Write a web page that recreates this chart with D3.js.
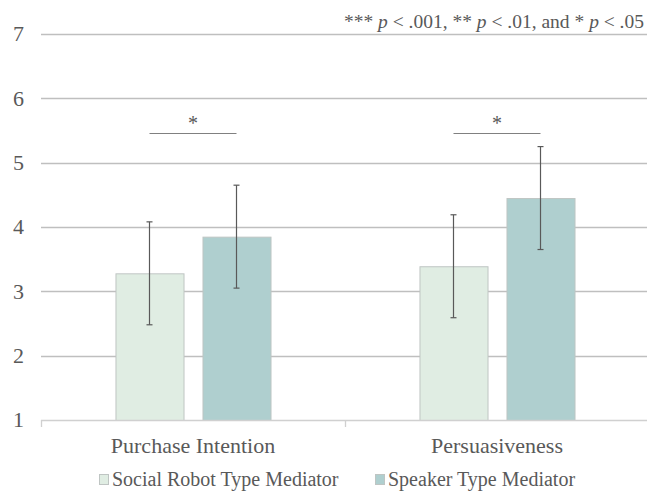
<!DOCTYPE html>
<html>
<head>
<meta charset="utf-8">
<script src="https://cdn.jsdelivr.net/npm/d3@7"></script>
<style>
  body { margin: 0; background: #fff; }
  svg { display: block; }
</style>
</head>
<body>
<svg id="chart"></svg>
<script>
// data
var categories = ["Purchase Intention", "Persuasiveness"];
var seriesNames = ["Social Robot Type Mediator", "Speaker Type Mediator"];
var socialMeans = [3.28, 3.39];
var speakerMeans = [3.85, 4.45];
var socialErr = [0.8, 0.8];
var speakerErr = [0.8, 0.8];
var sigLabels = ["*", "*"];
var yTicks = [1, 2, 3, 4, 5, 6, 7];

var w = 647, h = 491;
var margin = { top: 34, right: -2, bottom: 71, left: 41 };
var colors = ["#e0ede3", "#afcfcf"];
var font = "Liberation Serif";
var textColor = "#595959";

var svg = d3.select("#chart").attr("width", w).attr("height", h);

var x0 = d3.scaleBand()
    .domain(categories)
    .range([margin.left, w - margin.right]);

var x1 = d3.scaleBand()
    .domain(seriesNames)
    .range([0, x0.bandwidth()])
    .paddingInner(0.218)
    .paddingOuter(0.856);

var y = d3.scaleLinear()
    .domain([1, 7])
    .range([h - margin.bottom, margin.top]);

function label(sel, size) {
    return sel.style("font-family", font)
        .style("font-size", size + "px")
        .attr("fill", textColor);
}

// gridlines
svg.append("g")
    .selectAll("line")
    .data(yTicks.slice(1))
    .join("line")
    .attr("x1", margin.left)
    .attr("x2", w)
    .attr("y1", d => Math.round(y(d)) + 0.5)
    .attr("y2", d => Math.round(y(d)) + 0.5)
    .attr("stroke", "#bfbfbf")
    .attr("stroke-width", 1.3);

// y tick labels
svg.append("g")
    .selectAll("text")
    .data(yTicks)
    .join("text")
    .attr("x", 24)
    .attr("y", d => y(d))
    .attr("dy", "0.33em")
    .attr("text-anchor", "end")
    .call(label, 22)
    .text(d => d);

// bars
var rows = categories.map((c, i) => ({
    cat: c,
    vals: [
        { s: seriesNames[0], v: socialMeans[i], e: socialErr[i] },
        { s: seriesNames[1], v: speakerMeans[i], e: speakerErr[i] }
    ],
    sig: sigLabels[i]
}));

var groups = svg.append("g")
    .selectAll("g")
    .data(rows)
    .join("g")
    .attr("transform", d => "translate(" + x0(d.cat) + ",0)");

groups.selectAll("rect")
    .data(d => d.vals)
    .join("rect")
    .attr("x", d => x1(d.s) + 0.5)
    .attr("y", d => y(d.v) + 0.5)
    .attr("width", x1.bandwidth())
    .attr("height", d => y(1) - y(d.v))
    .attr("fill", (d, i) => colors[i])
    .attr("stroke", "#bfc5c3")
    .attr("stroke-width", 1);

// error bars
var err = groups.selectAll("g.err")
    .data(d => d.vals)
    .join("g")
    .attr("class", "err")
    .attr("stroke", "#595959")
    .attr("stroke-width", 1.2);

err.append("line")
    .attr("x1", d => x1(d.s) + x1.bandwidth() / 2)
    .attr("x2", d => x1(d.s) + x1.bandwidth() / 2)
    .attr("y1", d => y(d.v + d.e))
    .attr("y2", d => y(d.v - d.e));

err.selectAll("line.cap")
    .data(d => [d.v + d.e, d.v - d.e].map(v => ({ s: d.s, v: v })))
    .join("line")
    .attr("class", "cap")
    .attr("x1", d => x1(d.s) + x1.bandwidth() / 2 - 3)
    .attr("x2", d => x1(d.s) + x1.bandwidth() / 2 + 3)
    .attr("y1", d => y(d.v))
    .attr("y2", d => y(d.v));

// significance brackets
groups.append("line")
    .attr("x1", x1(seriesNames[0]) + x1.bandwidth() / 2)
    .attr("x2", x1(seriesNames[1]) + x1.bandwidth() / 2)
    .attr("y1", 133.5)
    .attr("y2", 133.5)
    .attr("stroke", "#808080")
    .attr("stroke-width", 1);

groups.append("text")
    .attr("x", (x1(seriesNames[0]) + x1(seriesNames[1]) + x1.bandwidth()) / 2)
    .attr("y", 130)
    .attr("text-anchor", "middle")
    .call(label, 20)
    .text(d => d.sig);

// x axis
var xAxis = svg.append("g").attr("stroke", "#d0d0d0").attr("stroke-width", 1.3);
xAxis.append("line")
    .attr("x1", margin.left)
    .attr("x2", w)
    .attr("y1", y(1) + 0.5)
    .attr("y2", y(1) + 0.5);
xAxis.selectAll("line.tick")
    .data(categories.concat([null]))
    .join("line")
    .attr("class", "tick")
    .attr("x1", d => (d ? x0(d) : x0.range()[1]) + 0.5)
    .attr("x2", d => (d ? x0(d) : x0.range()[1]) + 0.5)
    .attr("y1", y(1))
    .attr("y2", y(1) + 7);

svg.append("g")
    .selectAll("text")
    .data(categories)
    .join("text")
    .attr("x", d => x0(d) + x0.bandwidth() / 2)
    .attr("y", 453)
    .attr("text-anchor", "middle")
    .call(label, 22)
    .text(d => d);

// legend
var legendX = [99, 375];
var legend = svg.append("g")
    .selectAll("g")
    .data(seriesNames)
    .join("g")
    .attr("transform", (d, i) => "translate(" + legendX[i] + ",486)");

legend.append("rect")
    .attr("x", 0.5)
    .attr("y", -11.5)
    .attr("width", 9)
    .attr("height", 10)
    .attr("fill", (d, i) => colors[i])
    .attr("stroke", "#bfc5c3");

legend.append("text")
    .attr("x", 13)
    .attr("y", 0)
    .call(label, 20)
    .text(d => d);

// note
var note = svg.append("text")
    .attr("x", 644)
    .attr("y", 27.5)
    .attr("text-anchor", "end")
    .call(label, 19.5);
note.append("tspan").text("*** ");
note.append("tspan").attr("font-style", "italic").text("p");
note.append("tspan").text(" < .001, ** ");
note.append("tspan").attr("font-style", "italic").text("p");
note.append("tspan").text(" < .01, and * ");
note.append("tspan").attr("font-style", "italic").text("p");
note.append("tspan").text(" < .05");
</script>
</body>
</html>
